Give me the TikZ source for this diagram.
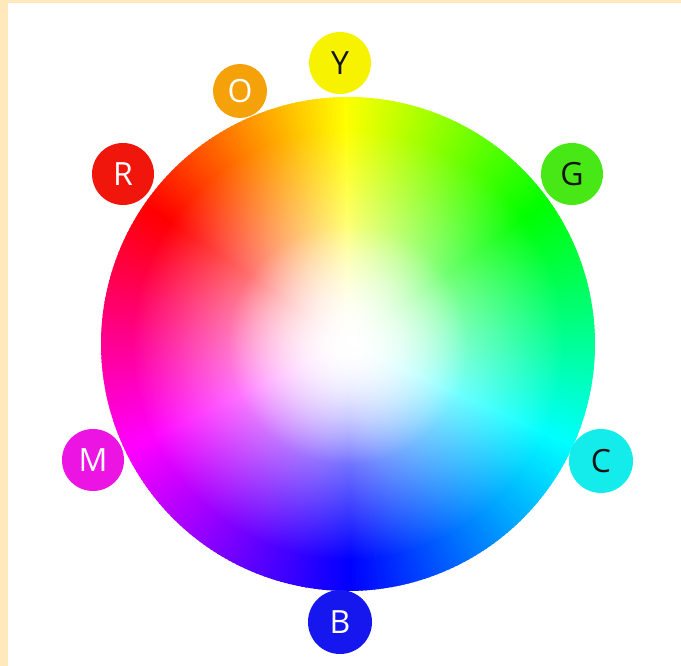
\documentclass[tikz,border=0pt]{standalone}
\usepackage{fontspec}
\setmainfont{Open Sans}
\usepackage{tikz}
\usepackage{xcolor}
\usetikzlibrary{fadings}
\definecolor{wpage}{RGB}{255,233,188}
\definecolor{wyellow}{RGB}{255,255,0}
\definecolor{wgreen}{RGB}{0,255,0}
\definecolor{wcyan}{RGB}{0,255,255}
\definecolor{wblue}{RGB}{0,0,255}
\definecolor{wmagenta}{RGB}{255,0,255}
\definecolor{wred}{RGB}{255,0,0}
\definecolor{worange}{RGB}{255,128,0}
\definecolor{lyellow}{RGB}{247,242,0}
\definecolor{lorange}{RGB}{245,162,10}
\definecolor{lred}{RGB}{240,22,12}
\definecolor{lgreen}{RGB}{72,232,22}
\definecolor{lcyan}{RGB}{20,236,236}
\definecolor{lblue}{RGB}{22,22,238}
\definecolor{lmagenta}{RGB}{236,20,226}
\definecolor{ldark}{RGB}{20,20,20}
\tikzfading[name=wcore, inner color=transparent!0, outer color=transparent!100]
\tikzset{
  wlabel/.style={circle, inner sep=0pt, minimum size=62pt, font=\fontsize{32}{36}\selectfont},
  wlabeldark/.style={wlabel, text=ldark},
  wlabellight/.style={wlabel, text=white}
}

\begin{document}
\begin{tikzpicture}[x=1pt, y=1pt]
  \useasboundingbox (0,0) rectangle (681,666);
  \fill[wpage] (0,0) rectangle (681,666);
  \fill[white] (8,0) rectangle (681,663);
  \coordinate (c) at (348,322);
  % hue ring
  \foreach \s/\e/\ca/\cb in {-90/-25/wblue/wcyan, -25/35/wcyan/wgreen, 35/90/wgreen/wyellow,
      90/118/wyellow/worange, 118/145/worange/wred, 145/205/wred/wmagenta, 205/270/wmagenta/wblue} {
    \pgfmathtruncatemacro\n{\e-\s-1}
    \foreach \i in {0,...,\n} {
      \pgfmathsetmacro\p{100-100*\i/(\e-\s)}
      \pgfmathsetmacro\a{\s+\i}
      \colorlet{wc}{\ca!\p!\cb}
      \fill[wc] (c) -- ([shift={(\a:247pt)}]c) arc[start angle=\a, end angle=\a+1.4, radius=247pt] -- cycle;
    }
  }
  % white core
  \fill[white, path fading=wcore] (c) circle[radius=215pt];
  \fill[white, path fading=wcore] (c) circle[radius=120pt];
  % labels
  \node[wlabeldark, fill=lyellow] (Y) at ([shift={(-8,281)}]c) {Y};
  \node[wlabellight, fill=lorange, minimum size=54pt] (O) at ([shift={(-108,253)}]c) {O};
  \node[wlabellight, fill=lred] (R) at ([shift={(-225,170)}]c) {R};
  \node[wlabeldark, fill=lgreen] (G) at ([shift={(224,170)}]c) {G};
  \node[wlabeldark, fill=lcyan, minimum size=64pt] (C) at ([shift={(253,-117)}]c) {C};
  \node[wlabellight, fill=lblue, minimum size=64pt] (B) at ([shift={(-8,-278)}]c) {B};
  \node[wlabellight, fill=lmagenta] (M) at ([shift={(-255,-116)}]c) {M};
\end{tikzpicture}
\end{document}
